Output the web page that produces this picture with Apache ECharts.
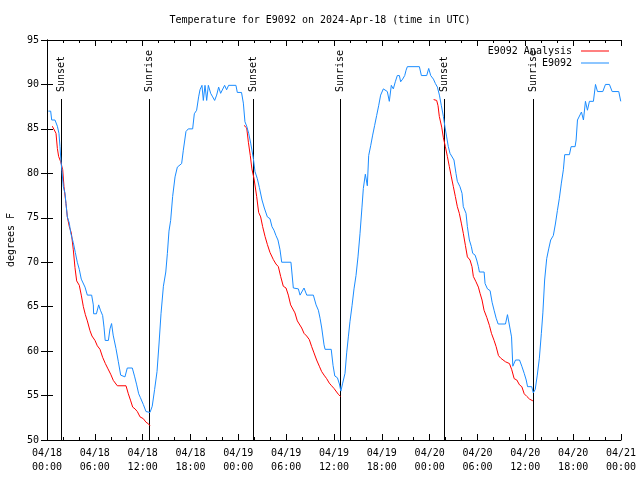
<!DOCTYPE html>
<html>
<head>
<meta charset="utf-8">
<script src="https://cdn.jsdelivr.net/npm/echarts@6/dist/echarts.min.js"></script>
<style>
html,body{margin:0;padding:0;background:#fff;}
#chart{width:640px;height:480px;}
</style>
</head>
<body>
<div id="chart"></div>
<script>
// Hours since 2024-04-18 00:00 UTC, temperature in degrees F
const titleText = 'Temperature for E9092 on 2024-Apr-18 (time in UTC)';
const seriesNames = ['E9092 Analysis', 'E9092'];
const xTickLabels = ['04/18\n00:00','04/18\n06:00','04/18\n12:00','04/18\n18:00','04/19\n00:00','04/19\n06:00','04/19\n12:00','04/19\n18:00','04/20\n00:00','04/20\n06:00','04/20\n12:00','04/20\n18:00','04/21\n00:00'];
const sunTimes = [1.8, 12.85, 25.8, 36.8, 49.85, 60.9];
const sunLabels = ['Sunset','Sunrise','Sunset','Sunrise','Sunset','Sunrise'];

const observed = [
[0.17,87],[0.46,87],[0.59,86],[1.0,86],[1.3,85.3],[1.5,84.5],[1.63,83],[1.76,81.3],[1.88,80.2],[2.05,78.5],
[2.26,77.75],[2.38,76.6],[2.55,75.1],[2.8,74.4],[2.97,73.3],[3.3,72.2],[3.55,71.1],[3.8,70],[4.05,69.2],[4.3,68.1],
[4.47,67.9],[4.77,67.2],[5.06,66.3],[5.6,66.3],[5.81,65.2],[5.85,64.2],[6.2,64.2],[6.48,65.2],[6.7,64.6],[6.98,64],
[7.15,62.7],[7.3,61.2],[7.7,61.2],[7.9,62.5],[8.1,63.1],[8.3,61.8],[8.65,60.3],[8.95,58.8],[9.24,57.3],[9.78,57.1],
[10.07,58.1],[10.7,58.1],[11.0,57.1],[11.25,56.2],[11.5,55.2],[11.7,54.8],[12.08,54],[12.3,54],[12.42,53.2],[12.92,53.1],
[13.2,53.8],[13.5,55.7],[13.8,57.7],[14.05,60.8],[14.3,64.2],[14.6,67.3],[14.9,68.9],[15.1,71],[15.3,73.5],[15.51,74.7],
[15.76,77.4],[16.06,79.6],[16.35,80.7],[16.6,80.9],[16.89,81.1],[17.1,82.6],[17.43,84.7],[17.72,85],[18.27,85],[18.48,86.7],
[18.77,87.1],[19.02,88.6],[19.19,89.4],[19.44,89.9],[19.61,88.2],[19.82,89.9],[20.03,88.2],[20.24,89.9],[20.53,89],[20.78,88.6],
[21.03,88.2],[21.28,88.8],[21.53,89.7],[21.78,89],[22.03,89.1],[22.28,89.9],[22.53,89.4],[22.78,89.9],[23.7,89.9],[23.87,89.1],
[24.4,89.1],[24.63,87.9],[24.83,85.8],[25.05,85.3],[25.3,84.5],[25.55,83.4],[25.88,81.7],[26.09,80.2],[26.38,79.4],[26.64,78.4],
[26.97,77],[27.26,76.1],[27.64,75.1],[27.97,74.9],[28.22,74],[28.47,73.6],[28.72,73],[28.97,72.5],[29.23,71.4],[29.44,70],
[30.6,70],[30.9,67.1],[31.53,67],[31.74,66.3],[31.95,66.3],[32.24,67.1],[32.58,66.3],[33.41,66.3],[33.75,65.2],[34.04,64.6],
[34.25,63.7],[34.46,62.6],[34.75,60.7],[34.88,60.2],[35.65,60.2],[35.88,58.4],[36.1,57.2],[36.43,57],[36.68,56.3],[36.86,55.5],
[37.09,56.4],[37.38,57.5],[37.59,59.8],[37.8,61.6],[38.0,63.3],[38.26,65.1],[38.51,67],[38.76,68.5],[39.01,70.6],[39.26,73.2],
[39.51,76.2],[39.68,78.3],[39.93,79.9],[40.1,79.9],[40.18,78.6],[40.35,82],[40.6,83.1],[40.85,84.3],[41.1,85.4],[41.35,86.5],
[41.6,87.6],[41.85,88.8],[42.19,89.5],[42.44,89.4],[42.69,89.2],[42.94,88.1],[43.19,89.9],[43.44,89.5],[43.69,90.3],[43.94,91],
[44.2,91],[44.36,90.3],[44.61,90.6],[44.87,91],[45.04,91.6],[45.2,92],[46.71,92],[46.96,91],[47.63,91],[47.88,91.8],
[48.13,91],[48.47,90.6],[48.72,90.1],[48.97,89.7],[49.22,88.8],[49.47,87.6],[49.72,86.4],[49.92,85.2],[50.13,84.1],[50.34,83],
[50.55,82.25],[50.8,82.1],[51.05,81.5],[51.3,80],[51.47,79.1],[51.8,78.5],[52.06,77.75],[52.22,76.25],[52.56,75.5],[52.73,74],
[52.98,72.5],[53.23,71.75],[53.4,71],[53.7,70.8],[53.9,70.25],[54.11,69.5],[54.24,68.9],[54.83,68.9],[54.95,67.6],[55.25,67],
[55.58,66.8],[55.83,65.5],[56.08,64.6],[56.34,63.7],[56.59,63.05],[57.51,63.05],[57.76,64.1],[58.01,64.1],[58.27,61.6],[58.43,58.3],
[58.6,58.3],[58.77,59],[59.27,59],[59.56,58.3],[59.86,57.5],[60.11,56.75],[60.28,56],[60.8,56],[61.0,55.3],[61.24,55.7],
[61.5,57.3],[61.76,59.2],[62.01,62],[62.2,64.3],[62.42,68],[62.68,70.4],[62.93,71.5],[63.18,72.5],[63.51,73],[63.77,74.3],
[64.02,75.8],[64.27,77.2],[64.52,78.9],[64.77,80.4],[64.94,82.1],[65.53,82.1],[65.74,83],[66.24,83],[66.37,83.75],[66.54,86],
[66.79,86.2],[67.04,86.9],[67.29,86],[67.54,88.1],[67.79,87.1],[68.04,88.1],[68.54,88.1],[68.8,90],[69.05,89.2],[69.72,89.2],
[70.05,90],[70.55,90],[70.89,89.2],[71.72,89.2],[71.97,88.1]
];

const analysisNight1 = [
[0.67,85.3],[0.92,85.3],[1.13,84.5],[1.3,82.8],[1.46,81.9],[1.72,81.3],[1.97,80.4],[2.13,78.5],[2.38,76.6],[2.55,75.1],
[2.8,74],[3.05,73.3],[3.3,71.4],[3.51,69.4],[3.72,67.9],[4.05,67.4],[4.3,66.3],[4.56,65],[4.81,64.1],[5.06,63.4],
[5.39,62.3],[5.64,61.7],[6.02,61.2],[6.31,60.6],[6.65,60.2],[6.98,59.3],[7.32,58.6],[7.65,58],[7.99,57.4],[8.32,56.7],
[8.82,56.1],[9.91,56.1],[10.2,55.2],[10.5,54.4],[10.75,53.7],[11.04,53.5],[11.33,53.2],[11.67,52.6],[12.08,52.4],[12.42,52],
[12.75,51.8],[12.92,51.6]
];
const analysisNight2 = [
[24.71,85.4],[25.05,85.1],[25.26,83.5],[25.5,82],[25.7,80.5],[25.97,79.4],[26.3,77.4],[26.55,75.6],[26.8,75.1],[27.05,74],
[27.35,72.9],[27.64,72],[27.97,71.1],[28.39,70.3],[28.72,69.8],[29.02,69.5],[29.31,68.4],[29.64,67.3],[29.98,67.1],[30.27,66.3],
[30.56,65.2],[30.81,65],[31.1,64.3],[31.4,63.4],[31.65,63.2],[31.95,62.6],[32.24,62],[32.57,61.7],[32.9,61.3],[33.2,60.5],
[33.49,59.8],[33.82,59],[34.16,58.3],[34.45,57.7],[34.75,57.3],[35.08,56.9],[35.41,56.4],[35.7,56.1],[36.0,55.8],[36.33,55.4],
[36.58,55.1],[36.84,54.9]
];
const analysisNight3 = [
[48.5,88.3],[48.88,88.2],[49.05,87.6],[49.21,86.4],[49.51,85.2],[49.72,84],[49.97,83],[50.22,81.9],[50.47,80.75],[50.72,79.6],
[50.97,78.5],[51.22,77.4],[51.47,76.25],[51.72,75.5],[51.97,74.4],[52.22,73.25],[52.48,71.9],[52.73,70.6],[53.06,70.25],[53.31,69.5],
[53.48,68.4],[53.81,67.8],[54.11,67.2],[54.32,66.5],[54.57,65.75],[54.82,64.6],[55.16,63.8],[55.49,62.9],[55.75,62],[56.08,61.2],
[56.34,60.5],[56.63,59.5],[56.92,59.2],[57.51,58.8],[58.01,58.6],[58.3,57.9],[58.6,56.9],[58.93,56.75],[59.27,56.2],[59.56,56],
[59.86,55.2],[60.19,54.9],[60.53,54.6],[60.95,54.4]
];

const FONT = '"DejaVu Sans Mono", "Liberation Mono", monospace';
const analysis = analysisNight1.concat([[null,null]], analysisNight2, [[null,null]], analysisNight3);

const chart = echarts.init(document.getElementById('chart'), null, {renderer: 'canvas'});
const axisCommon = {
  axisLine: {show: true, lineStyle: {color: '#000', width: 1}},
  splitLine: {show: false}
};
const option = {
  animation: false,
  backgroundColor: '#fff',
  textStyle: {fontFamily: FONT},
  title: {
    text: titleText, left: 'center', top: 10,
    textStyle: {fontFamily: FONT, fontSize: 10, fontWeight: 'normal', color: '#000'}
  },
  legend: {
    data: seriesNames,
    orient: 'vertical', right: 31, top: 45, padding: 0,
    align: 'right', icon: 'rect', itemWidth: 28, itemHeight: 1, itemGap: 0,
    textStyle: {fontFamily: FONT, fontSize: 10, color: '#000', lineHeight: 12, padding: [0, 4, 0, 0]}
  },
  grid: {left: 47, right: 19, top: 40, bottom: 40, containLabel: false, outerBoundsMode: 'none'},
  xAxis: [
    Object.assign({}, axisCommon, {
      type: 'value', min: 0, max: 72, interval: 6, position: 'bottom',
      axisTick: {show: true, inside: true, length: 6, lineStyle: {color: '#000'}},
      minorTick: {show: true, splitNumber: 3, length: 3, lineStyle: {color: '#000'}},
      axisLabel: {
        color: '#000', fontFamily: FONT, fontSize: 10, lineHeight: 14, margin: 6,
        formatter: v => xTickLabels[Math.round(v / 6)] || ''
      }
    }),
    Object.assign({}, axisCommon, {
      type: 'value', min: 0, max: 72, interval: 6, position: 'top',
      axisTick: {show: true, inside: true, length: 6, lineStyle: {color: '#000'}},
      minorTick: {show: true, splitNumber: 3, length: 3, lineStyle: {color: '#000'}},
      axisLabel: {show: false}
    })
  ],
  yAxis: [
    Object.assign({}, axisCommon, {
      type: 'value', min: 50, max: 95, interval: 5, position: 'left',
      name: 'degrees F', nameLocation: 'middle', nameGap: 31, nameRotate: 90,
      nameTextStyle: {fontFamily: FONT, fontSize: 10, color: '#000'},
      axisTick: {show: true, inside: true, length: 6, lineStyle: {color: '#000'}},
      axisLabel: {color: '#000', fontFamily: FONT, fontSize: 10, margin: 8}
    }),
    Object.assign({}, axisCommon, {
      type: 'value', min: 50, max: 95, interval: 5, position: 'right',
      axisTick: {show: true, inside: true, length: 6, lineStyle: {color: '#000'}},
      axisLabel: {show: false}
    })
  ],
  series: [
    {
      name: seriesNames[0], type: 'line', data: analysis, connectNulls: false,
      symbol: 'none', showSymbol: false, color: '#ff0000',
      lineStyle: {color: '#ff0000', width: 1}
    },
    {
      name: seriesNames[1], type: 'line', data: observed,
      symbol: 'none', showSymbol: false, color: '#1a8cff',
      lineStyle: {color: '#1a8cff', width: 1}
    },
    {
      name: 'sun', type: 'custom', clip: false, silent: true,
      data: sunTimes.map((t, i) => [t, i]),
      encode: {x: 0},
      renderItem: function (params, api) {
        const t = api.value(0);
        const idx = api.value(1);
        const x = Math.round(api.coord([t, 50])[0]) + 0.5;
        const cs = params.coordSys;
        return {
          type: 'group',
          children: [
            {type: 'line', shape: {x1: x, y1: cs.y + 59, x2: x, y2: cs.y + cs.height},
             style: {stroke: '#000', lineWidth: 1}},
            {type: 'text', x: x, y: cs.y + 52, rotation: Math.PI / 2,
             style: {text: sunLabels[idx], fill: '#000', font: '10px ' + FONT,
                     align: 'left', verticalAlign: 'middle'}}
          ]
        };
      }
    }
  ]
};
chart.setOption(option);
</script>
</body>
</html>
